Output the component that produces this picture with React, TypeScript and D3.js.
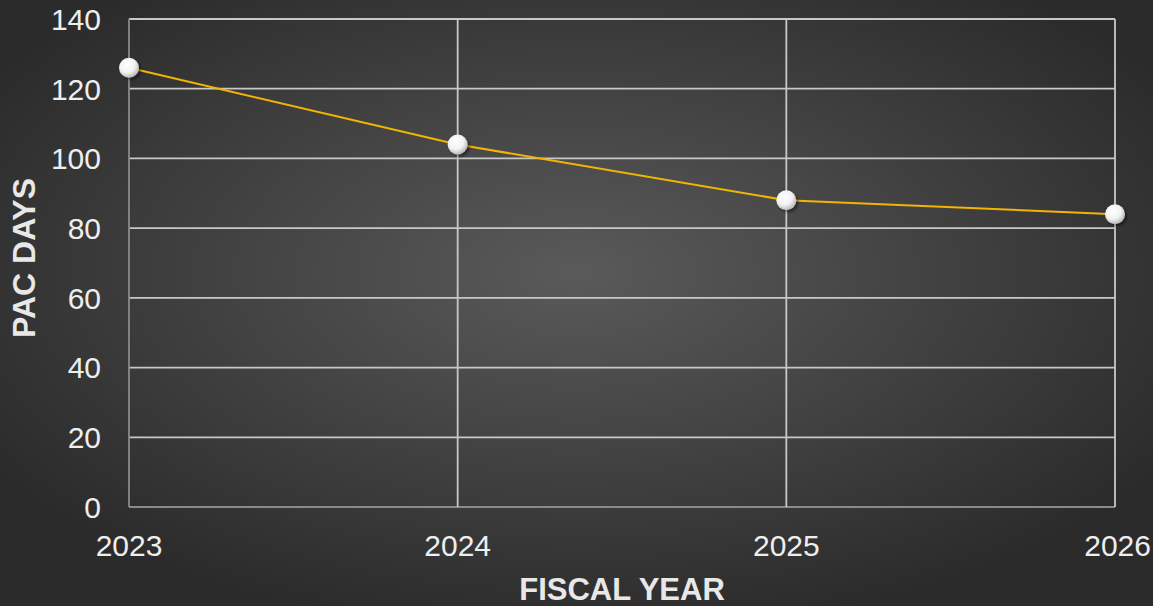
import React from "react";
import * as d3 from "d3";

const years = ["2023", "2024", "2025", "2026"];
const pacDays = [126, 104, 88, 84];
const yTicks = [0, 20, 40, 60, 80, 100, 120, 140];

const W = 1153;
const H = 606;
const M = { left: 129, right: 1115, top: 19, bottom: 507 };

export default function App() {
  const x = d3.scalePoint<string>().domain(years).range([M.left, M.right]);
  const y = d3.scaleLinear().domain([0, 140]).range([M.bottom, M.top]);
  const line = d3
    .line<number>()
    .x((_, i) => x(years[i]) as number)
    .y((d) => y(d));
  const font = "'Liberation Sans', Arial, sans-serif";

  return (
    <svg
      width={W}
      height={H}
      style={{ position: "absolute", left: 0, top: 0, display: "block" }}
    >
      <defs>
        <radialGradient id="bg" cx="50%" cy="45%" r="60%">
          <stop offset="0%" stopColor="#5a5a5a" />
          <stop offset="100%" stopColor="#2b2b2b" />
        </radialGradient>
        <radialGradient id="ball" cx="40%" cy="35%" r="65%">
          <stop offset="0%" stopColor="#ffffff" />
          <stop offset="60%" stopColor="#f2f2f2" />
          <stop offset="100%" stopColor="#b8b8b8" />
        </radialGradient>
        <filter id="shadow" x="-50%" y="-50%" width="200%" height="200%">
          <feDropShadow dx="2" dy="2" stdDeviation="1.5" floodColor="#000" floodOpacity="0.5" />
        </filter>
      </defs>
      <rect x={0} y={0} width={W} height={H} fill="url(#bg)" />

      {yTicks.map((t) => (
        <line
          key={"h" + t}
          x1={M.left}
          x2={M.right}
          y1={y(t)}
          y2={y(t)}
          stroke={t === 0 ? "#8a8a8a" : "#c8c8c8"}
          strokeWidth={1.8}
        />
      ))}
      {years.map((yr, i) => (
        <line
          key={"v" + yr}
          x1={x(yr)}
          x2={x(yr)}
          y1={M.top}
          y2={M.bottom}
          stroke={i === 0 ? "#8a8a8a" : "#c8c8c8"}
          strokeWidth={1.8}
        />
      ))}

      {yTicks.map((t) => (
        <text
          key={"yl" + t}
          x={101}
          y={y(t)}
          dy="0.36em"
          textAnchor="end"
          fill="#eeeeee"
          fontSize={30}
          fontFamily={font}
        >
          {t}
        </text>
      ))}
      {years.map((yr, i) => (
        <text
          key={"xl" + yr}
          x={i === years.length - 1 ? 1151 : (x(yr) as number)}
          y={556}
          textAnchor={i === years.length - 1 ? "end" : "middle"}
          fill="#eeeeee"
          fontSize={30}
          fontFamily={font}
        >
          {yr}
        </text>
      ))}

      <path d={line(pacDays) || ""} fill="none" stroke="#f2b500" strokeWidth={2} />
      {pacDays.map((v, i) => (
        <circle
          key={"m" + i}
          cx={x(years[i])}
          cy={y(v)}
          r={10}
          fill="url(#ball)"
          filter="url(#shadow)"
        />
      ))}

      <text
        x={622}
        y={600}
        textAnchor="middle"
        fill="#e8e8e8"
        fontSize={31}
        fontWeight="bold"
        fontFamily={font}
      >
        FISCAL YEAR
      </text>
      <text
        transform={`translate(35,258) rotate(-90)`}
        textAnchor="middle"
        fill="#e8e8e8"
        fontSize={32}
        fontWeight="bold"
        fontFamily={font}
      >
        PAC DAYS
      </text>
    </svg>
  );
}
